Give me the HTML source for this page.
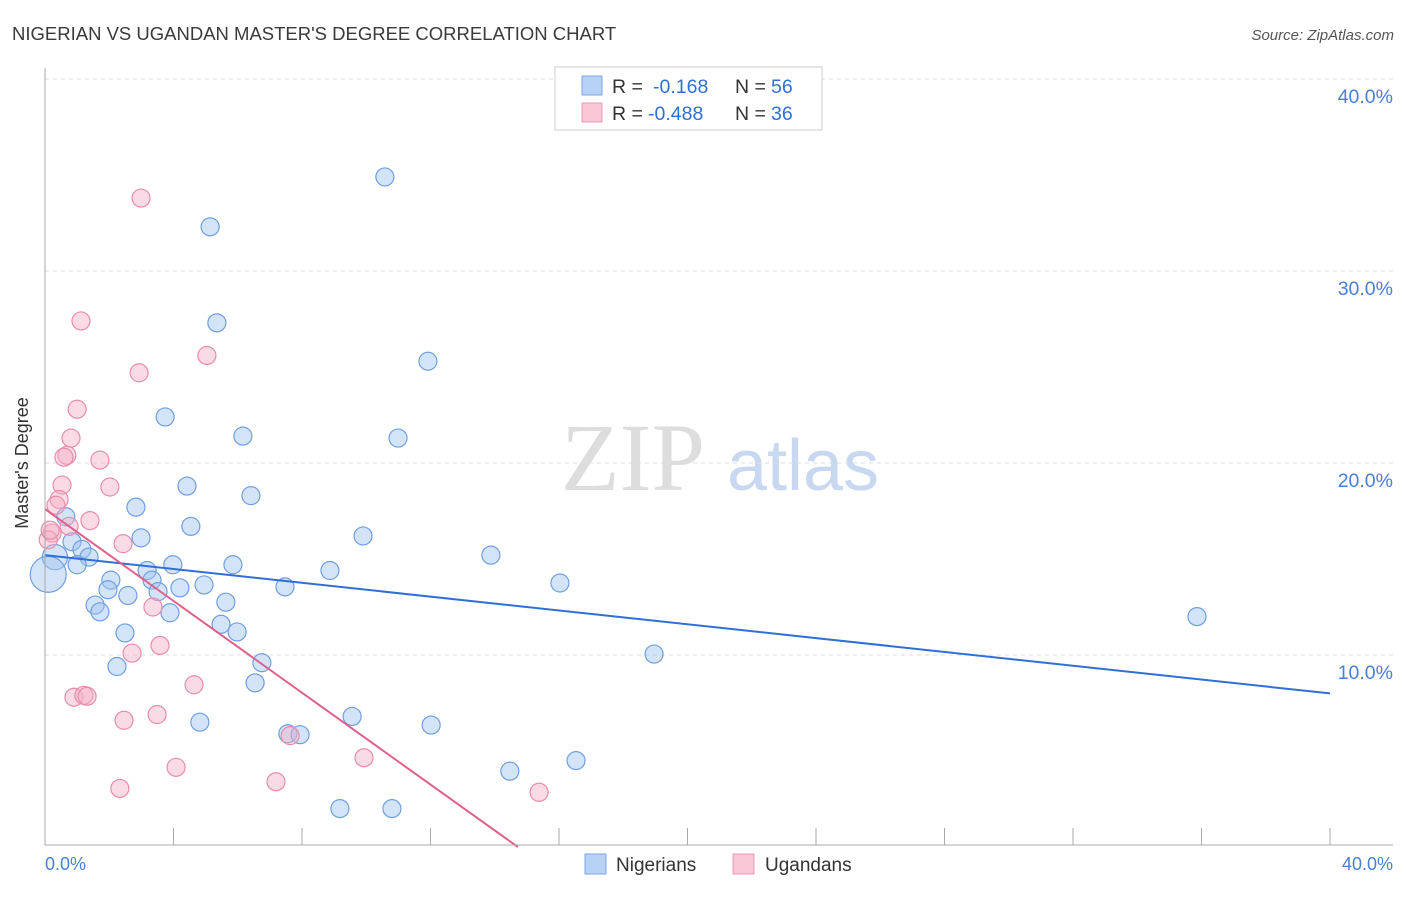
<!DOCTYPE html>
<html><head><meta charset="utf-8"><style>
body{margin:0;background:#fff;font-family:"Liberation Sans",sans-serif}
</style></head><body>
<svg width="1406" height="892" xmlns="http://www.w3.org/2000/svg">
<text x="12" y="40" font-size="18.5" fill="#3a3a3a">NIGERIAN VS UGANDAN MASTER'S DEGREE CORRELATION CHART</text>
<text x="1394" y="40" font-size="15" fill="#555" font-style="italic" text-anchor="end">Source: ZipAtlas.com</text>
<g>
<text x="633" y="490" font-size="96" fill="#ddd" font-family="Liberation Serif" text-anchor="middle">ZIP</text>
<text x="803" y="490" font-size="72" fill="#c8d8f0" text-anchor="middle">atlas</text>
</g>
<g id="grid"></g>
<g id="pts"></g>
<g id="lines"></g>
<line x1="45" y1="68" x2="45" y2="845" stroke="#aaa"/>
<line x1="45" y1="845" x2="1393" y2="845" stroke="#aaa"/>
<text x="20" y="455" font-size="18" fill="#333" text-anchor="middle" transform="rotate(-90 28 455)">Master's Degree</text>
<text x="45" y="870" font-size="18" fill="#4a7fd6">0.0%</text>
<text x="1393" y="870" font-size="18" fill="#4a7fd6" text-anchor="end">40.0%</text>
<g font-size="19.5">
<rect x="555" y="67" width="267" height="63" fill="#fff" stroke="#ccc"/>
<rect x="582" y="76" width="20" height="19" fill="#b8d2f5" stroke="#7aa6e0"/>
<rect x="582" y="103" width="20" height="19" fill="#f9c6d5" stroke="#eb9ab4"/>
<text x="612" y="93" fill="#333">R =</text><text x="653" y="93" fill="#2f6fd6">-0.168</text>
<text x="735" y="93" fill="#333">N =</text><text x="771" y="93" fill="#2f6fd6">56</text>
<text x="612" y="120" fill="#333">R =</text><text x="648" y="120" fill="#2f6fd6">-0.488</text>
<text x="735" y="120" fill="#333">N =</text><text x="771" y="120" fill="#2f6fd6">36</text>
</g>
<g>
<rect x="585" y="854" width="21" height="20" fill="#b8d2f5" stroke="#7aa6e0"/>
<text x="616" y="871" font-size="19" fill="#333">Nigerians</text>
<rect x="733" y="854" width="21" height="20" fill="#f9c6d5" stroke="#eb9ab4"/>
<text x="765" y="871" font-size="19" fill="#333">Ugandans</text>
</g>
</svg>
<script>
const yTicks=[10,20,30,40];
const xTicks=[0,4,8,12,16,20,24,28,32,36,40];
const nigX=[10.58,5.14,5.35,11.92,3.74,6.16,10.99,4.42,6.41,2.83,0.65,4.54,2.99,9.9,0.84,1.15,13.88,1.37,1.0,3.98,5.85,3.18,8.87,2.05,3.33,16.03,4.95,4.2,7.47,1.96,2.58,3.52,5.63,1.56,1.71,3.89,5.48,5.98,2.49,35.86,18.96,6.75,2.24,6.54,9.56,4.82,12.02,7.56,7.94,14.47,16.53,9.18,10.8,0.31,0.1];
const nigY=[34.9,32.3,27.3,25.3,22.4,21.4,21.3,18.8,18.3,17.7,17.2,16.7,16.1,16.2,15.9,15.5,15.2,15.1,14.7,14.7,14.7,14.4,14.4,13.9,13.9,13.75,13.65,13.5,13.55,13.4,13.1,13.3,12.75,12.6,12.25,12.2,11.6,11.2,11.15,12.0,10.05,9.6,9.4,8.55,6.8,6.5,6.35,5.9,5.85,3.95,4.5,2.0,2.0,15.1,14.2];
const nigSize=[1,1,1,1,1,1,1,1,1,1,1,1,1,1,1,1,1,1,1,1,1,1,1,1,1,1,1,1,1,1,1,1,1,1,1,1,1,1,1,1,1,1,1,1,1,1,1,1,1,1,1,1,1,1.4,2.0];
const ugaX=[2.99,1.12,5.04,2.93,1.0,0.81,0.68,0.59,1.71,2.02,0.53,0.44,0.34,1.4,0.75,0.22,0.1,2.43,3.36,2.71,3.58,4.64,2.46,3.49,0.9,1.21,1.31,4.08,7.19,2.33,9.93,15.38,7.63,0.16];
const ugaY=[33.8,27.4,25.6,24.7,22.8,21.3,20.4,20.3,20.15,18.75,18.85,18.1,17.8,17.0,16.7,16.35,16.0,15.8,12.5,10.1,10.5,8.45,6.6,6.9,7.8,7.9,7.85,4.15,3.4,3.05,4.65,2.85,5.8,16.5];
const nigTrend=[15.2,8.0];
const ugaTrend=[17.6,14.72];
const X=v=>45+v*32.125, Y=v=>847-v*19.2;
const NS="http://www.w3.org/2000/svg";
function mk(t,a,p){const e=document.createElementNS(NS,t);for(const k in a)e.setAttribute(k,a[k]);p.appendChild(e);return e;}
const grid=document.getElementById('grid');
yTicks.forEach(t=>{
 const l=mk('line',{x1:45,x2:1393,y1:Y(t),y2:Y(t),stroke:'#ddd','stroke-dasharray':'4,4'},grid);
 
 
 const tx=mk('text',{x:1393,y:Y(t)+24,'font-size':19.5,fill:'#4a7fd6','text-anchor':'end'},grid);
 tx.textContent=t.toFixed(1)+'%';
 
 
});
xTicks.forEach(t=>{
 const l=mk('line',{x1:X(t),x2:X(t),y1:828,y2:845,stroke:'#aaa'},grid);
 
 
});
const pts=document.getElementById('pts');
nigX.forEach((x,i)=>{
 const c=mk('circle',{cx:X(x),cy:Y(nigY[i]),r:9*nigSize[i],fill:'rgba(160,195,240,0.45)',stroke:'#6f9fe0','stroke-width':1.2},pts);
 
 
});
ugaX.forEach((x,i)=>{
 const c=mk('circle',{cx:X(x),cy:Y(ugaY[i]),r:9,fill:'rgba(245,175,198,0.45)',stroke:'#e98cab','stroke-width':1.2},pts);
 
 
});
const lines=document.getElementById('lines');
const bl=mk('line',{x1:X(0),y1:Y(nigTrend[0]),x2:X(40),y2:Y(nigTrend[1]),stroke:'#2f6fd6','stroke-width':2},lines);


const pl=mk('line',{x1:X(0),y1:Y(ugaTrend[0]),x2:X(ugaTrend[1]),y2:Y(0),stroke:'#e0608a','stroke-width':2},lines);


</script>
</body></html>
